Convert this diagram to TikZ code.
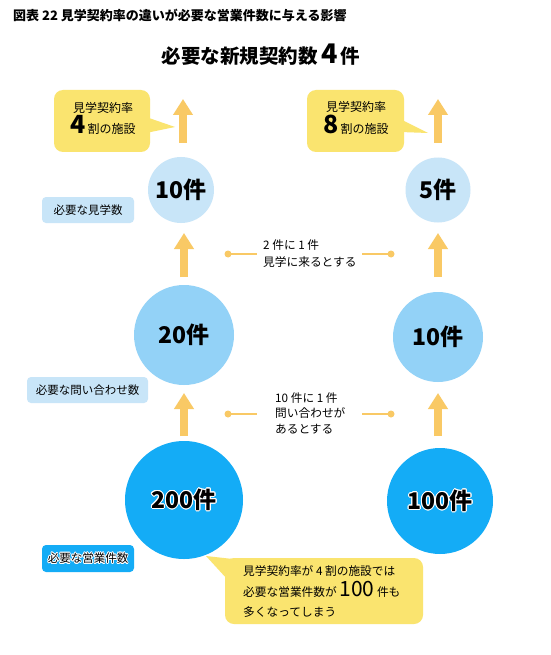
\documentclass[tikz,border=0pt]{standalone}
\usepackage{fontspec}
\setmainfont{Noto Sans CJK JP}
\usepackage{contour}
\contourlength{0.7pt}
\usetikzlibrary{arrows.meta}
\definecolor{cyel}{HTML}{FAE46F}
\definecolor{carrow}{HTML}{F9C965}
\definecolor{clight}{HTML}{C8E5F8}
\definecolor{cmid}{HTML}{93D2F7}
\definecolor{cdark}{HTML}{14ACF6}
\tikzset{
  upar/.style={draw=carrow, line width=8pt, -{Triangle[width=19pt,length=16pt]}},
  numcirc/.style={circle, inner sep=0pt, font=\bfseries\fontsize{23}{25}\selectfont},
  tagbox/.style={rounded corners=4pt, inner sep=0pt, font=\fontsize{11.5}{13}\selectfont},
  bubble/.style={fill=cyel, rounded corners=9pt, inner sep=0pt},
  conn/.style={draw=carrow, line width=1.8pt},
  dot/.style={fill=carrow},
  note/.style={align=left, inner sep=0pt, font=\fontsize{11.7}{17}\selectfont},
}
\begin{document}
\begin{tikzpicture}[x=1pt,y=-1pt]
\useasboundingbox (0,0) rectangle (550,655);
\fill[white] (0,0) rectangle (550,655);

% titles
\node[anchor=west, inner sep=0pt, font=\bfseries\fontsize{13}{15}\selectfont] (title) at (13,15)
  {図表 22 見学契約率の違いが必要な営業件数に与える影響};
\node[inner sep=0pt, font=\bfseries\fontsize{19.5}{22}\selectfont] (sub) at (261,55)
  {必要な新規契約数\,{\fontsize{27}{27}\selectfont 4}\,件};

% circles
\node[numcirc, fill=clight, minimum size=66pt] (l1) at (181,190) {10件};
\node[numcirc, fill=clight, minimum size=65pt] (r1) at (438,190) {5件};
\node[numcirc, fill=cmid, minimum size=100pt] (l2) at (184,335) {20件};
\node[numcirc, fill=cmid, minimum size=90pt] (r2) at (438,337) {10件};
\node[numcirc, fill=cdark, minimum size=118pt] (l3) at (184,500) {\contour{white}{200件}};
\node[numcirc, fill=cdark, minimum size=106pt] (r3) at (440,501) {\contour{white}{100件}};

% arrows
\coordinate (la0) at (183,143); \coordinate (la1) at (183,99);
\coordinate (ra0) at (438,143); \coordinate (ra1) at (438,99);
\coordinate (lb0) at (184,277); \coordinate (lb1) at (184,233);
\coordinate (rb0) at (438,277); \coordinate (rb1) at (438,233);
\coordinate (lc0) at (184,436); \coordinate (lc1) at (184,393);
\coordinate (rc0) at (438,436); \coordinate (rc1) at (438,393);
\draw[upar] (la0) -- (la1);
\draw[upar] (ra0) -- (ra1);
\draw[upar] (lb0) -- (lb1);
\draw[upar] (rb0) -- (rb1);
\draw[upar] (lc0) -- (lc1);
\draw[upar] (rc0) -- (rc1);

% tag boxes
\node[tagbox, fill=clight, minimum width=92pt, minimum height=26pt] (tg1) at (88,210) {必要な見学数};
\node[tagbox, fill=clight, minimum width=121pt, minimum height=26pt] (tg2) at (87.5,390) {必要な問い合わせ数};
\node[tagbox, fill=cdark, minimum width=92pt, minimum height=27pt] (tg3) at (88,558.5) {\contour{white}{必要な営業件数}};

% top callouts
\node[bubble, minimum width=96pt, minimum height=62pt] (bl) at (102,121) {};
\coordinate (blt) at (175,127);
\fill[cyel] (146,117) -- (blt) -- (146,133) -- cycle;
\node[align=center, inner sep=0pt, font=\fontsize{12}{12}\selectfont] (blx) at (103,118)
  {見学契約率\\[1pt]{\bfseries\fontsize{25}{25}\selectfont 4}\,割の施設};

\node[bubble, minimum width=97pt, minimum height=62pt] (br) at (355.5,121) {};
\coordinate (brt) at (428,133);
\fill[cyel] (400,119) -- (brt) -- (400,132) -- cycle;
\node[align=center, inner sep=0pt, font=\fontsize{12}{12}\selectfont] (brx) at (356,118)
  {見学契約率\\[1pt]{\bfseries\fontsize{25}{25}\selectfont 8}\,割の施設};

% connectors between columns
\coordinate (d1a) at (228,254); \coordinate (e1a) at (257,254);
\coordinate (e1b) at (362,254); \coordinate (d1b) at (391,254);
\draw[conn] (d1a) -- (e1a);
\draw[conn] (e1b) -- (d1b);
\fill[dot] (d1a) circle (3.5);
\fill[dot] (d1b) circle (3.5);
\node[note, anchor=west] (n1) at (263,254) {2 件に 1 件\\見学に来るとする};

\coordinate (d2a) at (228,414); \coordinate (e2a) at (257,414);
\coordinate (e2b) at (362,414); \coordinate (d2b) at (391,414);
\draw[conn] (d2a) -- (e2a);
\draw[conn] (e2b) -- (d2b);
\fill[dot] (d2a) circle (3.5);
\fill[dot] (d2b) circle (3.5);
\node[note, anchor=west, font=\fontsize{11.7}{15.5}\selectfont] (n2) at (275,413) {10 件に 1 件\\問い合わせが\\あるとする};

% bottom callout
\node[bubble, minimum width=198pt, minimum height=66pt] (bb) at (324,591) {};
\coordinate (bbt) at (206,556);
\fill[cyel] (bbt) -- (242,560) -- (228,580) -- cycle;
\node[align=left, anchor=west, inner sep=0pt, font=\fontsize{11.7}{20.5}\selectfont] (bbx) at (243,592)
  {見学契約率が 4 割の施設では\\必要な営業件数が {\fontsize{21}{20}\selectfont 100} 件も\\多くなってしまう};
\end{tikzpicture}
\end{document}
